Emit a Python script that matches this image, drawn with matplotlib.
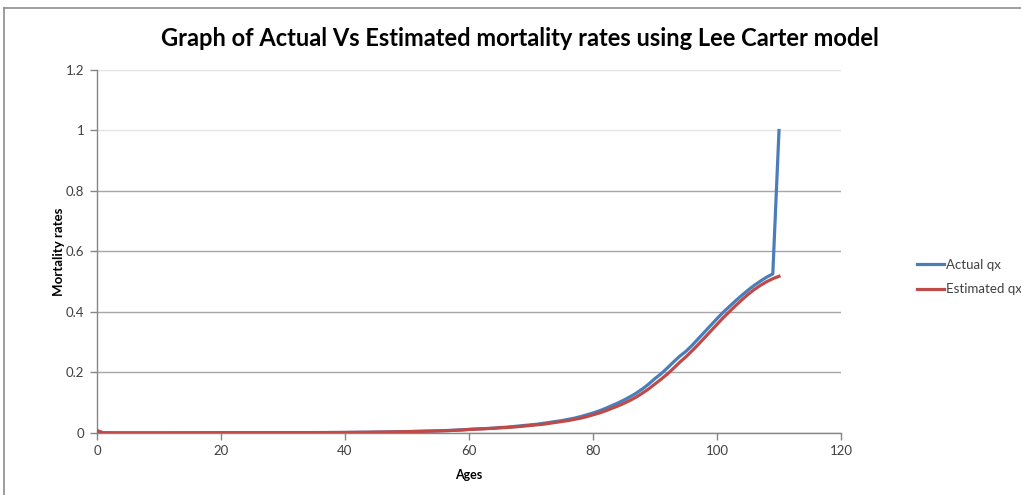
import matplotlib
matplotlib.use("Agg")
import matplotlib.pyplot as plt
from matplotlib.lines import Line2D
from matplotlib.ticker import FuncFormatter

plt.rcParams['font.family'] = ['Lato', 'DejaVu Sans']

ages = list(range(0, 111))

actual_qx = [
    0.0060, 0.0006, 0.0004, 0.0003, 0.0003, 0.0003, 0.0003, 0.0003, 0.0003, 0.0003,
    0.0003, 0.0003, 0.0003, 0.0004, 0.0004, 0.0005, 0.0006, 0.0007, 0.0008, 0.0008,
    0.0009, 0.0009, 0.0009, 0.0009, 0.0009, 0.0009, 0.0009, 0.0010, 0.0010, 0.0010,
    0.0010, 0.0011, 0.0011, 0.0012, 0.0012, 0.0013, 0.0014, 0.0014, 0.0015, 0.0016,
    0.0018, 0.0020, 0.0022, 0.0024, 0.0026, 0.0029, 0.0031, 0.0034, 0.0037, 0.0041,
    0.0045, 0.0050, 0.0055, 0.0060, 0.0065, 0.0070, 0.0078, 0.0085, 0.0095, 0.0105,
    0.0120, 0.0130, 0.0140, 0.0150, 0.0160, 0.0180, 0.0190, 0.0210, 0.0230, 0.0250,
    0.0270, 0.0290, 0.0320, 0.0350, 0.0380, 0.0410, 0.0450, 0.0490, 0.0540, 0.0600,
    0.0660, 0.0730, 0.0810, 0.0900, 0.0990, 0.1090, 0.1200, 0.1320, 0.1460, 0.1620,
    0.1800, 0.1960, 0.2150, 0.2350, 0.2540, 0.2700, 0.2900, 0.3120, 0.3340, 0.3560,
    0.3780, 0.3990, 0.4180, 0.4370, 0.4550, 0.4720, 0.4880, 0.5020, 0.5150, 0.5260,
    1.0000,
]

estimated_qx = [
    0.0080, 0.0007, 0.0004, 0.0003, 0.0003, 0.0003, 0.0003, 0.0003, 0.0003, 0.0003,
    0.0003, 0.0003, 0.0003, 0.0004, 0.0004, 0.0005, 0.0006, 0.0007, 0.0008, 0.0008,
    0.0009, 0.0009, 0.0009, 0.0009, 0.0009, 0.0009, 0.0009, 0.0010, 0.0010, 0.0010,
    0.0010, 0.0011, 0.0011, 0.0012, 0.0012, 0.0013, 0.0013, 0.0014, 0.0015, 0.0016,
    0.0017, 0.0019, 0.0021, 0.0023, 0.0025, 0.0028, 0.0030, 0.0033, 0.0036, 0.0040,
    0.0044, 0.0048, 0.0053, 0.0058, 0.0063, 0.0068, 0.0075, 0.0082, 0.0091, 0.0101,
    0.0115, 0.0125, 0.0135, 0.0145, 0.0155, 0.0170, 0.0180, 0.0195, 0.0210, 0.0230,
    0.0250, 0.0270, 0.0290, 0.0320, 0.0350, 0.0380, 0.0410, 0.0450, 0.0490, 0.0540,
    0.0600, 0.0660, 0.0730, 0.0810, 0.0890, 0.0980, 0.1080, 0.1190, 0.1320, 0.1460,
    0.1620, 0.1780, 0.1950, 0.2140, 0.2340, 0.2520, 0.2720, 0.2930, 0.3150, 0.3370,
    0.3590, 0.3810, 0.4010, 0.4210, 0.4400, 0.4580, 0.4740, 0.4880, 0.5000, 0.5100,
    0.5180,
]

x_ticks = [0, 20, 40, 60, 80, 100, 120]
y_ticks = [0, 0.2, 0.4, 0.6, 0.8, 1.0, 1.2]

blue = "#4a7ebb"
red = "#be4b48"
axis_gray = "#868686"
text_gray = "#404040"

fig = plt.figure(figsize=(10.21, 4.95), dpi=100, facecolor="white")
ax = fig.add_axes([0.095, 0.1253, 0.7287, 0.7333])

ax.plot(ages, actual_qx, color=blue, linewidth=2.3, label="Actual qx", zorder=3)
ax.plot(ages, estimated_qx, color=red, linewidth=2.3, label="Estimated qx", zorder=3)

ax.set_xlim(0, 120)
ax.set_ylim(0, 1.2)
ax.set_xticks(x_ticks)
ax.set_yticks(y_ticks)
ax.yaxis.set_major_formatter(FuncFormatter(lambda v, p: "%g" % round(v, 1)))

ax.grid(axis="y", color="#a6a6a6", linewidth=1)
for i, gl in enumerate(ax.get_ygridlines()):
    if y_ticks[i] >= 1.0:
        gl.set_color("#e4e4e4")
ax.set_axisbelow(True)

for side in ("top", "right"):
    ax.spines[side].set_visible(False)
for side in ("left", "bottom"):
    ax.spines[side].set_color(axis_gray)
    ax.spines[side].set_linewidth(1)

ax.tick_params(axis="both", direction="out", length=5, width=1, color=axis_gray,
               labelsize=9.5, labelcolor=text_gray)
ax.tick_params(axis="x", pad=4)
ax.tick_params(axis="y", pad=4)

ax.set_xlabel("Ages", fontsize=9, fontweight="bold", color="black", labelpad=8)
ax.set_ylabel("Mortality rates", fontsize=9.5, fontweight="bold", color="black", labelpad=0.5)

fig.text(0.509, 0.923, "Graph of Actual Vs Estimated mortality rates using Lee Carter model",
         ha="center", va="center", fontsize=17, fontweight="bold", color="black")

ax.legend(loc="center left", bbox_to_anchor=(910 / 1021, 1 - 277 / 495),
          bbox_transform=fig.transFigure, frameon=False, fontsize=9.5,
          handlelength=2.1, handletextpad=0.1, labelspacing=0.95, borderpad=0,
          labelcolor=text_gray)

# outer chart border (left and top edges visible)
fig.add_artist(Line2D([4 / 1021, 4 / 1021], [0, 1 - 8 / 495], transform=fig.transFigure,
                      color="#8c8c8c", linewidth=1.2))
fig.add_artist(Line2D([4 / 1021, 1], [1 - 8 / 495, 1 - 8 / 495], transform=fig.transFigure,
                      color="#8c8c8c", linewidth=1.2))

fig.savefig("out.png", dpi=100, facecolor="white")
